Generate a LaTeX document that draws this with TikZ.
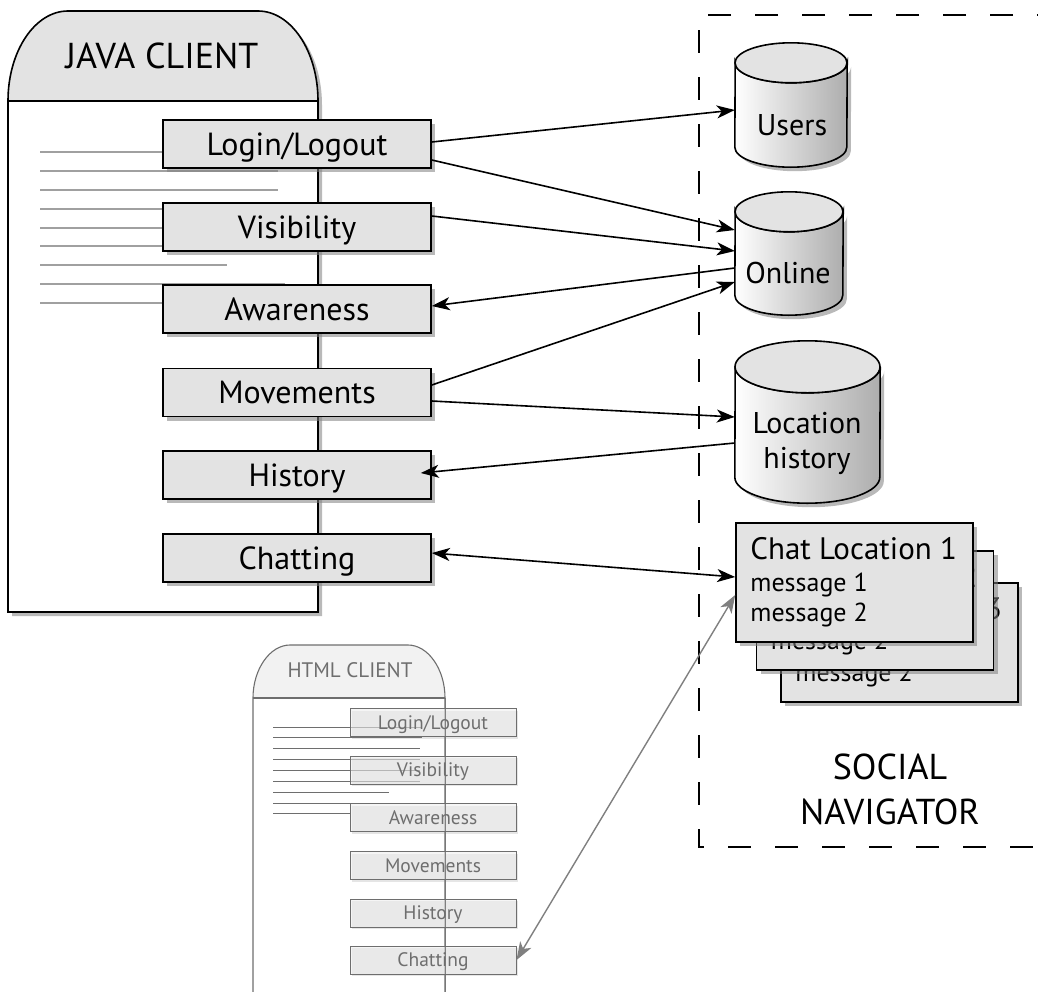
\documentclass[tikz,border=0pt]{standalone}
\usepackage{fontspec}
\setmainfont{PT Sans}
\usetikzlibrary{arrows.meta,shadows,calc}
\definecolor{boxgray}{RGB}{227,227,227}
\definecolor{linegray}{RGB}{160,160,160}
\definecolor{htmlgray}{RGB}{110,110,110}
\newcommand\drawcyl[3]{%
  \path[cylbody] (#1.south west) arc[start angle=180,end angle=360,x radius=#2,y radius=#3]
     -- (#1.north east) arc[start angle=0,end angle=-180,x radius=#2,y radius=#3] -- cycle;
  \path[cyltop] (#1.north) ellipse[x radius=#2,y radius=#3];
}
\begin{document}
\begin{tikzpicture}[x=1pt,y=-1pt,
  softshadow/.style={drop shadow={shadow xshift=4pt,shadow yshift=-4pt,opacity=0.55}},
  jbox/.style={draw,line width=1.6pt,fill=boxgray,minimum width=268pt,minimum height=48pt,
    inner sep=0pt,font=\fontsize{32}{34}\selectfont,text height=22.4pt,text depth=0pt,softshadow},
  hbox/.style={draw=htmlgray,line width=1pt,fill=boxgray!60,fill opacity=0.55,text opacity=1,
    text=htmlgray,minimum width=166pt,minimum height=28pt,inner sep=0pt,
    font=\fontsize{19.5}{21}\selectfont,text height=13.6pt,text depth=0pt,
    drop shadow={shadow xshift=2pt,shadow yshift=-2pt,opacity=0.2}},
  cylnode/.style={inner sep=0pt},
  cylbody/.style={draw,line width=1.6pt,left color=white,right color=black!32,softshadow},
  cyltop/.style={draw,line width=1.6pt,fill=boxgray},
  cyltext/.style={font=\fontsize{30}{32}\selectfont,text height=21pt,text depth=0pt,inner sep=0pt},
  chatbox/.style={draw,line width=1.6pt,fill=boxgray,minimum width=237pt,minimum height=119pt,inner sep=0pt,softshadow},
  chattitle/.style={anchor=base west,inner sep=0pt,font=\fontsize{31}{33}\selectfont},
  chatmsg/.style={anchor=base west,inner sep=0pt,font=\fontsize{26}{28}\selectfont},
  tip/.style={Stealth[length=18pt,width=13pt,inset=5pt]},
  arr/.style={line width=1.6pt,-{Stealth[length=18pt,width=13pt,inset=5pt]}},
  darr/.style={line width=1.6pt,{Stealth[length=18pt,width=13pt,inset=5pt]}-{Stealth[length=18pt,width=13pt,inset=5pt]}},
  garr/.style={line width=1.4pt,draw=gray,{Stealth[length=18pt,width=13pt,inset=5pt]}-{Stealth[length=18pt,width=13pt,inset=5pt]}}
]
\useasboundingbox (0,0) rectangle (1038,991);

% ---------- SOCIAL NAVIGATOR frame ----------
\draw[line width=1.5pt,dash pattern=on 23pt off 24pt] (1060,15) -- (699,15) -- (699,847) -- (1060,847);
\node[align=center,font=\fontsize{36}{45}\selectfont,inner sep=0pt] (socnav) at (890,789) {SOCIAL\\NAVIGATOR};

% ---------- JAVA CLIENT ----------
\path[fill=white,softshadow] (8,612) -- (8,101) .. controls (8,51) and (35,11) .. (68,11) -- (258,11)
   .. controls (291,11) and (318,51) .. (318,101) -- (318,612) -- cycle;
\fill[boxgray] (8,101) .. controls (8,51) and (35,11) .. (68,11) -- (258,11)
   .. controls (291,11) and (318,51) .. (318,101) -- cycle;
\draw[line width=1.6pt] (8,101) -- (318,101);
\draw[line width=1.6pt] (8,612) -- (8,101) .. controls (8,51) and (35,11) .. (68,11) -- (258,11)
   .. controls (291,11) and (318,51) .. (318,101) -- (318,612) -- cycle;
\node[font=\fontsize{36}{38}\selectfont,inner sep=0pt] (javatitle) at (162,56) {JAVA CLIENT};

\foreach \y/\e in {152/163,171/278,190/278,209/163,228/163,246/163,265/227,284/285,303/163}
  \draw[linegray,line width=1.3pt] (40,\y) -- (\e,\y);

\node[jbox] (login)      at (297,144)   {Login/Logout};
\node[jbox] (visibility) at (297,227)   {Visibility};
\node[jbox] (awareness)  at (297,309)   {Awareness};
\node[jbox] (movements)  at (297,392.5) {Movements};
\node[jbox] (history)    at (297,475)   {History};
\node[jbox] (chatting)   at (297,558)   {Chatting};

% ---------- HTML CLIENT ----------
\path[fill=white] (253,1000) -- (253,698) .. controls (253,669) and (270,645) .. (290,645) -- (408,645)
   .. controls (428,645) and (445,669) .. (445,698) -- (445,1000) -- cycle;
\fill[black!5] (253,698) .. controls (253,669) and (270,645) .. (290,645) -- (408,645)
   .. controls (428,645) and (445,669) .. (445,698) -- cycle;
\draw[htmlgray,line width=1.1pt] (253,1000) -- (253,698) .. controls (253,669) and (270,645) .. (290,645) -- (408,645)
   .. controls (428,645) and (445,669) .. (445,698) -- (445,1000);
\draw[htmlgray,line width=1.1pt] (253,698) -- (445,698);
\node[font=\fontsize{21}{23}\selectfont,text=htmlgray,inner sep=0pt] (htmltitle) at (350,670.5) {HTML CLIENT};

\foreach \y/\e in {727/422,737/422,748/420,759/420,770/420,781/420,792/389,803/425,813/350}
  \draw[htmlgray,line width=1pt] (273,\y) -- (\e,\y);

\node[hbox] (hlogin)      at (433,722.5) {Login/Logout};
\node[hbox] (hvisibility) at (433,770)   {Visibility};
\node[hbox] (hawareness)  at (433,817.5) {Awareness};
\node[hbox] (hmovements)  at (433,865.5) {Movements};
\node[hbox] (hhistory)    at (433,913)   {History};
\node[hbox] (hchatting)   at (433,960)   {Chatting};
\draw[htmlgray,line width=1pt,opacity=0.8] (445,698) -- (445,1000);

% ---------- Databases ----------
\node[cylnode,minimum width=112pt,minimum height=84pt] (users) at (791,105) {};
\drawcyl{users}{56pt}{20pt}
\node[cyltext] (userslabel) at (792,124.5) {Users};

\node[cylnode,minimum width=108pt,minimum height=83pt] (online) at (789,253.5) {};
\drawcyl{online}{54pt}{20pt}
\node[cyltext] (onlinelabel) at (788,272.5) {Online};

\node[cylnode,minimum width=145pt,minimum height=110pt] (lochist) at (807.5,422) {};
\drawcyl{lochist}{72.5pt}{26pt}
\node[cyltext] (lochistlabela) at (807,422.5) {Location};
\node[cyltext] (lochistlabelb) at (807,457.5) {history};

% ---------- Chat locations ----------
\node[chatbox] (chat3) at (899.5,642.5) {};
\node[chattitle] (chat3t) at ([shift={(15,37)}]chat3.north west) {Chat Location 3};
\node[chatmsg] (chat3a) at ([shift={(15,69)}]chat3.north west) {message 1};
\node[chatmsg] (chat3b) at ([shift={(15,99)}]chat3.north west) {message 2};

\node[chatbox] (chat2) at (875,610.5) {};
\node[chattitle] (chat2t) at ([shift={(15,37)}]chat2.north west) {Chat Location 2};
\node[chatmsg] (chat2a) at ([shift={(15,69)}]chat2.north west) {message 1};
\node[chatmsg] (chat2b) at ([shift={(15,99)}]chat2.north west) {message 2};

\node[chatbox] (chat1) at (854.5,582.5) {};
\node[chattitle] (chat1t) at ([shift={(15,37)}]chat1.north west) {Chat Location 1};
\node[chatmsg] (chat1a) at ([shift={(15,69)}]chat1.north west) {message 1};
\node[chatmsg] (chat1b) at ([shift={(15,99)}]chat1.north west) {message 2};

% ---------- Connectors ----------
\draw[arr] (login.east |- 0,142) -- (users.west |- 0,110);
\draw[arr] (login.east |- 0,160) -- (online.west |- 0,230);
\draw[arr] (visibility.east |- 0,216) -- (online.west |- 0,251);
\draw[arr] (online.west |- 0,268) -- (awareness.east |- 0,306);
\draw[arr] (movements.east |- 0,385) -- (online.west |- 0,282);
\draw[arr] (movements.east |- 0,401) -- (lochist.west |- 0,417);
\draw[arr] (lochist.west |- 0,443) -- ($(history.east |- 0,473)+(-11,0)$);
\draw[darr] (chatting.east |- 0,553) -- (chat1.west |- 0,577);
\draw[garr] (hchatting.east |- 0,960) -- (chat1.west |- 0,595);
\end{tikzpicture}
\end{document}
